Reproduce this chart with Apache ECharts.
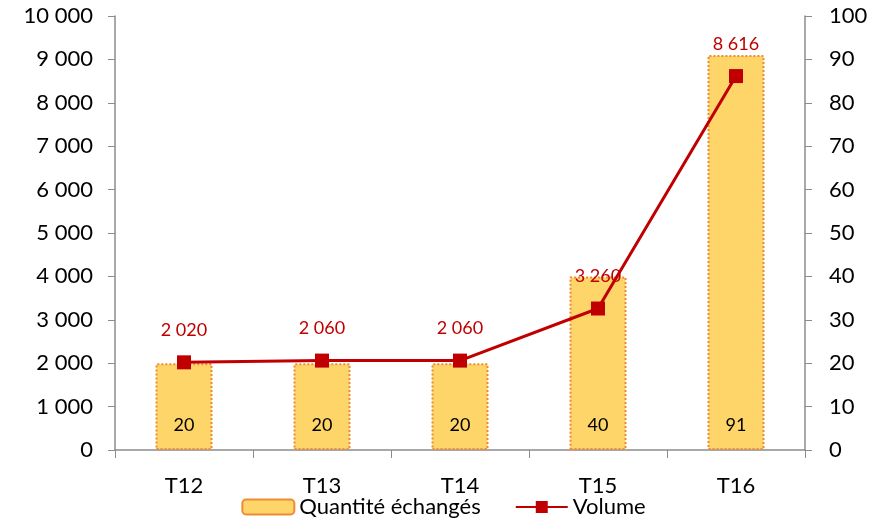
<!DOCTYPE html>
<html lang="fr">
<head>
    <meta charset="UTF-8">
    <title>Quantité échangés / Volume</title>
    <script src="https://cdn.jsdelivr.net/npm/echarts@6/dist/echarts.min.js"></script>
    <style>
        html, body { margin: 0; padding: 0; background: #fff; }
    </style>
</head>
<body>
    <div id="myChart" style="width: 887px; height: 523px;"></div>
    <script>
        // données
        const trimestres = ['T12', 'T13', 'T14', 'T15', 'T16'];
        const quantite = [20, 20, 20, 40, 91];
        const volume = [2020, 2060, 2060, 3260, 8616];

        // 10000 -> "10 000"
        function espaceMilliers(v) {
            return String(v).replace(/\B(?=(\d{3})+(?!\d))/g, ' ');
        }

        var myChart = echarts.init(document.getElementById('myChart'));
        var police = 'Lato, "Open Sans", sans-serif';
        var axeGris = '#8c8c8c';

        var option = {
            textStyle: { fontFamily: police },
            animation: false,
            grid: { left: 115, right: 82, top: 16, bottom: 73 },
            legend: {
                bottom: 0,
                left: 'center',
                itemWidth: 52,
                itemHeight: 15,
                itemGap: 34,
                textStyle: { fontSize: 22, color: '#000', fontFamily: police },
                data: ['Quantité échangés', 'Volume']
            },
            xAxis: {
                type: 'category',
                data: trimestres,
                axisLine: { lineStyle: { color: axeGris, width: 1.5 } },
                axisTick: { show: true, length: 8, lineStyle: { color: axeGris } },
                axisLabel: { fontSize: 22, color: '#000', margin: 25 }
            },
            yAxis: [
                {
                    type: 'value',
                    min: 0, max: 10000, interval: 1000,
                    position: 'left',
                    splitLine: { show: false },
                    axisLine: { show: true, lineStyle: { color: axeGris, width: 1.5 } },
                    axisTick: { show: true, length: 7, lineStyle: { color: axeGris } },
                    axisLabel: { fontSize: 22, color: '#000', margin: 22, formatter: espaceMilliers }
                },
                {
                    type: 'value',
                    min: 0, max: 100, interval: 10,
                    position: 'right',
                    splitLine: { show: false },
                    axisLine: { show: true, lineStyle: { color: axeGris, width: 1.5 } },
                    axisTick: { show: true, length: 7, lineStyle: { color: axeGris } },
                    axisLabel: { fontSize: 22, color: '#000', margin: 24 }
                }
            ],
            series: [
                {
                    name: 'Quantité échangés',
                    type: 'bar',
                    yAxisIndex: 1,
                    data: quantite,
                    barWidth: 57,
                    itemStyle: {
                        color: '#FDD568',
                        borderColor: '#F08A33',
                        borderWidth: 2,
                        borderType: 'dotted'
                    },
                    label: {
                        show: true,
                        position: 'insideBottom',
                        distance: 16,
                        fontSize: 18,
                        color: '#000'
                    }
                },
                {
                    name: 'Volume',
                    type: 'line',
                    yAxisIndex: 0,
                    data: volume,
                    symbol: 'rect',
                    symbolSize: 14,
                    z: 5,
                    lineStyle: { color: '#C00000', width: 3 },
                    itemStyle: { color: '#C00000' },
                    label: {
                        show: true,
                        position: 'top',
                        distance: 16,
                        fontSize: 18,
                        color: '#C00000',
                        formatter: function (p) { return espaceMilliers(p.value); }
                    }
                }
            ]
        };
        myChart.setOption(option);
    </script>
</body>
</html>
